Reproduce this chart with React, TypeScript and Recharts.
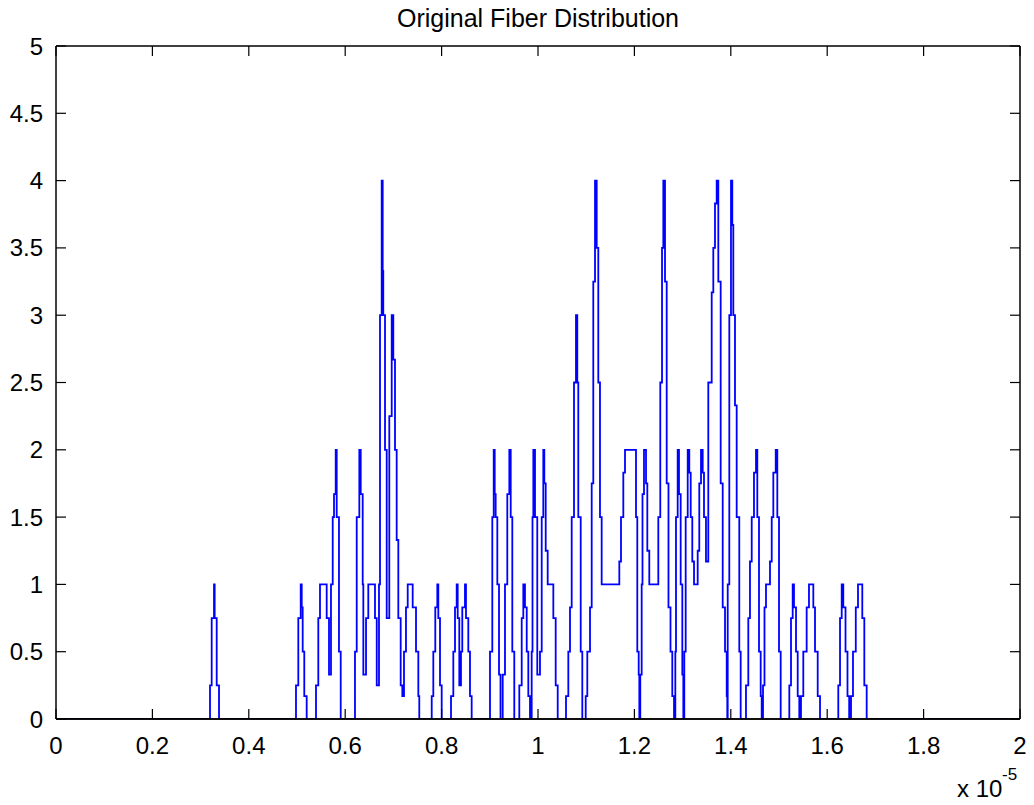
import React from 'react';
import { LineChart, Line, XAxis, YAxis, ReferenceLine } from 'recharts';

const xTicks = [0, 0.2, 0.4, 0.6, 0.8, 1, 1.2, 1.4, 1.6, 1.8, 2];
const xTickLabels = ['0', '0.2', '0.4', '0.6', '0.8', '1', '1.2', '1.4', '1.6', '1.8', '2'];
const yTicks = [0, 0.5, 1, 1.5, 2, 2.5, 3, 3.5, 4, 4.5, 5];
const yTickLabels = ['0', '0.5', '1', '1.5', '2', '2.5', '3', '3.5', '4', '4.5', '5'];

// fiber diameter (x 1e-5) at which the plotted count steps to the matching value
const fiberX = [
  0, 0.3195, 0.323, 0.3278, 0.3292, 0.3334, 0.3382,
  0.4979, 0.5027, 0.5077, 0.5098, 0.5118, 0.5151, 0.5201,
  0.5394, 0.5442, 0.5477, 0.5616, 0.5664, 0.5705, 0.5741, 0.5768, 0.5803, 0.5824, 0.5871, 0.5907,
  0.6203, 0.6239, 0.6293, 0.6322, 0.6363, 0.6376, 0.6432, 0.6479, 0.6618, 0.6654,
  0.6701, 0.6722, 0.6757, 0.6778, 0.679, 0.6826, 0.6861, 0.6915, 0.6965, 0.6998, 0.7033, 0.7068,
  0.7102, 0.7151, 0.7185, 0.722, 0.7261, 0.7297, 0.74, 0.7469, 0.7517, 0.7537,
  0.7795, 0.7828, 0.7869, 0.7911, 0.7932, 0.7967, 0.8002,
  0.8195, 0.8243, 0.8278, 0.8313, 0.8334, 0.8367, 0.8402, 0.8429, 0.8485, 0.8506, 0.8554, 0.8589, 0.8624,
  0.9004, 0.9052, 0.9081, 0.9102, 0.9122, 0.9156, 0.9191, 0.9222,
  0.9268, 0.9315, 0.9363, 0.9405, 0.9434, 0.9467, 0.9508,
  0.9612, 0.9662, 0.9695, 0.973, 0.9766, 0.9799, 0.9834,
  0.9869, 0.9886, 0.9903, 0.9938, 0.9985, 1.0041, 1.0077, 1.011, 1.0131, 1.016, 1.0201, 1.0318, 1.0367, 1.0409,
  1.0581, 1.0629, 1.0664, 1.0699, 1.0747, 1.0788, 1.0815, 1.0836, 1.0886, 1.0919,
  1.099, 1.1023, 1.1079, 1.1114, 1.1147, 1.1183, 1.1218, 1.1251, 1.1286, 1.1321,
  1.1687, 1.1722, 1.177, 1.1805, 1.2033, 1.206, 1.2089, 1.2102,
  1.2122, 1.2151, 1.2168, 1.2199, 1.2241, 1.2268, 1.2309,
  1.2496, 1.2537, 1.2573, 1.26, 1.2635, 1.267, 1.2707, 1.2749, 1.2786, 1.2822,
  1.2849, 1.2863, 1.2898, 1.2925, 1.296, 1.2994, 1.3015,
  1.3035, 1.3064, 1.3106, 1.3139, 1.3168, 1.3201, 1.3237, 1.3313, 1.3346, 1.3382, 1.3417, 1.3444, 1.3485,
  1.3533, 1.3604, 1.3637, 1.3672, 1.3707, 1.3741, 1.379, 1.3832, 1.388, 1.3915, 1.3927,
  1.3936, 1.3969, 1.4004, 1.4031, 1.4052, 1.4087, 1.4122, 1.4176, 1.4205,
  1.4315, 1.4363, 1.4398, 1.4434, 1.4481, 1.4523, 1.455, 1.4585, 1.462, 1.4641,
  1.4668, 1.4699, 1.473, 1.4813, 1.4849, 1.4882, 1.4932, 1.4965, 1.5, 1.5035,
  1.5214, 1.5249, 1.5284, 1.5311, 1.5353, 1.5388, 1.5421,
  1.5456, 1.5504, 1.5574, 1.5622, 1.5712, 1.5747, 1.5803, 1.5851,
  1.623, 1.6266, 1.6301, 1.6334, 1.638, 1.6421, 1.6456,
  1.6494, 1.6535, 1.6593, 1.6639, 1.6728, 1.677, 1.6819,
  2,
];

const fiberY = [
  0, 0.25, 0.75, 1, 0.75, 0.25, 0,
  0.25, 0.75, 1, 0.83, 0.5, 0.17, 0,
  0.25, 0.75, 1, 0.75, 0.33, 1, 1.5, 1.67, 2, 1.5, 0.5, 0,
  0.5, 1.5, 2, 1.67, 1, 0.33, 0.75, 1, 0.75, 0.25,
  1, 3, 4, 3.33, 3, 2, 0.75, 2.25, 3, 2.67, 2, 1.33,
  0.75, 0.25, 0.17, 0.5, 0.83, 1, 0.83, 0.5, 0.17, 0,
  0.17, 0.5, 0.83, 1, 0.75, 0.25, 0,
  0.17, 0.5, 0.83, 1, 0.75, 0.25, 0.5, 0.83, 1, 0.75, 0.5, 0.17, 0,
  0.5, 1.5, 2, 1.67, 1.5, 1, 0.33, 0,
  0.33, 1, 1.67, 2, 1.5, 0.5, 0,
  0.25, 0.75, 1, 0.83, 0.5, 0.17, 0,
  0.5, 1.5, 2, 1.5, 0.33, 0.5, 1.5, 2, 1.75, 1.25, 1, 0.75, 0.25, 0,
  0.17, 0.5, 0.83, 1.5, 2.5, 3, 2.5, 1.5, 0.5, 0,
  0.17, 0.5, 0.83, 1.75, 3.25, 4, 3.5, 2.5, 1.5, 1,
  1.17, 1.5, 1.83, 2, 1.5, 0.5, 0.33, 0,
  0.33, 1, 1.67, 2, 1.75, 1.25, 1,
  1.5, 2.5, 3.5, 4, 3.25, 1.75, 0.83, 0.5, 0.17, 0,
  0.5, 1.5, 2, 1.67, 1, 0.33, 0,
  0.5, 1.5, 2, 1.83, 1.5, 1.17, 1, 1.25, 1.75, 2, 1.83, 1.5, 1.17,
  2.5, 3.17, 3.5, 3.83, 4, 3.25, 1.75, 0.83, 0.5, 0.17, 0,
  1, 3, 4, 3.67, 3, 2.33, 1.5, 0.5, 0,
  0.25, 0.75, 1.17, 1.5, 1.83, 2, 1.5, 0.5, 0.17, 0,
  0.25, 0.83, 1, 1.17, 1.5, 1.83, 2, 1.5, 0.5, 0,
  0.25, 0.75, 1, 0.83, 0.5, 0.17, 0,
  0.17, 0.5, 0.83, 1, 0.83, 0.5, 0.17, 0,
  0.25, 0.75, 1, 0.83, 0.5, 0.17, 0,
  0.17, 0.5, 0.83, 1, 0.75, 0.25, 0,
  0,
];

const data = fiberX.map((x, i) => ({ x, y: fiberY[i] }));

const FONT = '"Liberation Sans", Arial, Helvetica, sans-serif';
const TICK_LEN = 10;
const LABEL_SIZE = 24;
const AXIS_STYLE = { stroke: '#000', strokeWidth: 1.5 };

function BottomTick(props: any) {
  const { x, y, payload } = props;
  const i = xTicks.indexOf(payload.value);
  return (
    <g>
      <line x1={x} y1={y} x2={x} y2={y - TICK_LEN} stroke="#000" strokeWidth={1.2} />
      <text x={x} y={y + 35} textAnchor="middle" fontSize={LABEL_SIZE} fontFamily={FONT} fill="#000">
        {xTickLabels[i]}
      </text>
    </g>
  );
}

function TopTick(props: any) {
  const { x, y } = props;
  return <line x1={x} y1={y} x2={x} y2={y + TICK_LEN} stroke="#000" strokeWidth={1.2} />;
}

function LeftTick(props: any) {
  const { x, y, payload } = props;
  const i = yTicks.indexOf(payload.value);
  return (
    <g>
      <line x1={x} y1={y} x2={x + TICK_LEN} y2={y} stroke="#000" strokeWidth={1.2} />
      <text x={x - 13} y={y + 8.5} textAnchor="end" fontSize={LABEL_SIZE} fontFamily={FONT} fill="#000">
        {yTickLabels[i]}
      </text>
    </g>
  );
}

function RightTick(props: any) {
  const { x, y } = props;
  return <line x1={x} y1={y} x2={x - TICK_LEN} y2={y} stroke="#000" strokeWidth={1.2} />;
}

export default function App() {
  return (
    <div style={{ position: 'absolute', left: 0, top: 0, width: 1034, height: 805, background: '#fff', overflow: 'hidden' }}>
      <LineChart width={1034} height={805} data={data} margin={{ top: 0, right: 0, bottom: 0, left: 0 }}>
        <XAxis
          xAxisId="bottom"
          orientation="bottom"
          dataKey="x"
          type="number"
          domain={[0, 2]}
          ticks={xTicks}
          interval={0}
          allowDataOverflow
          height={86}
          tickSize={0}
          tickMargin={0}
          tickLine={false}
          tick={<BottomTick />}
          axisLine={AXIS_STYLE}
        />
        <XAxis
          xAxisId="top"
          orientation="top"
          dataKey="x"
          type="number"
          domain={[0, 2]}
          ticks={xTicks}
          interval={0}
          allowDataOverflow
          height={46}
          tickSize={0}
          tickMargin={0}
          tickLine={false}
          tick={<TopTick />}
          axisLine={AXIS_STYLE}
        />
        <YAxis
          yAxisId="left"
          orientation="left"
          type="number"
          domain={[0, 5]}
          ticks={yTicks}
          interval={0}
          allowDataOverflow
          width={56}
          tickSize={0}
          tickMargin={0}
          tickLine={false}
          tick={<LeftTick />}
          axisLine={AXIS_STYLE}
        />
        <YAxis
          yAxisId="right"
          orientation="right"
          type="number"
          domain={[0, 5]}
          ticks={yTicks}
          interval={0}
          allowDataOverflow
          width={14}
          tickSize={0}
          tickMargin={0}
          tickLine={false}
          tick={<RightTick />}
          axisLine={AXIS_STYLE}
        />
        <Line
          type="stepAfter"
          dataKey="y"
          xAxisId="bottom"
          yAxisId="left"
          stroke="#0000ff"
          strokeWidth={1.8}
          dot={false}
          activeDot={false}
          isAnimationActive={false}
        />
        <ReferenceLine
          y={0}
          xAxisId="bottom"
          yAxisId="left"
          stroke="#000"
          strokeWidth={1.5}
          ifOverflow="visible"
        />
      </LineChart>
      <div
        style={{
          position: 'absolute',
          left: 238,
          top: 6,
          width: 600,
          textAlign: 'center',
          fontFamily: FONT,
          fontSize: 25,
          lineHeight: '25px',
          color: '#000',
          whiteSpace: 'nowrap',
        }}
      >
        Original Fiber Distribution
      </div>
      <div
        style={{
          position: 'absolute',
          left: 957,
          top: 777,
          fontFamily: FONT,
          fontSize: 24,
          lineHeight: '24px',
          color: '#000',
          whiteSpace: 'nowrap',
        }}
      >
        x 10
      </div>
      <div
        style={{
          position: 'absolute',
          left: 1002,
          top: 766,
          fontFamily: FONT,
          fontSize: 17,
          lineHeight: '18px',
          color: '#000',
          whiteSpace: 'nowrap',
        }}
      >
        -5
      </div>
    </div>
  );
}
